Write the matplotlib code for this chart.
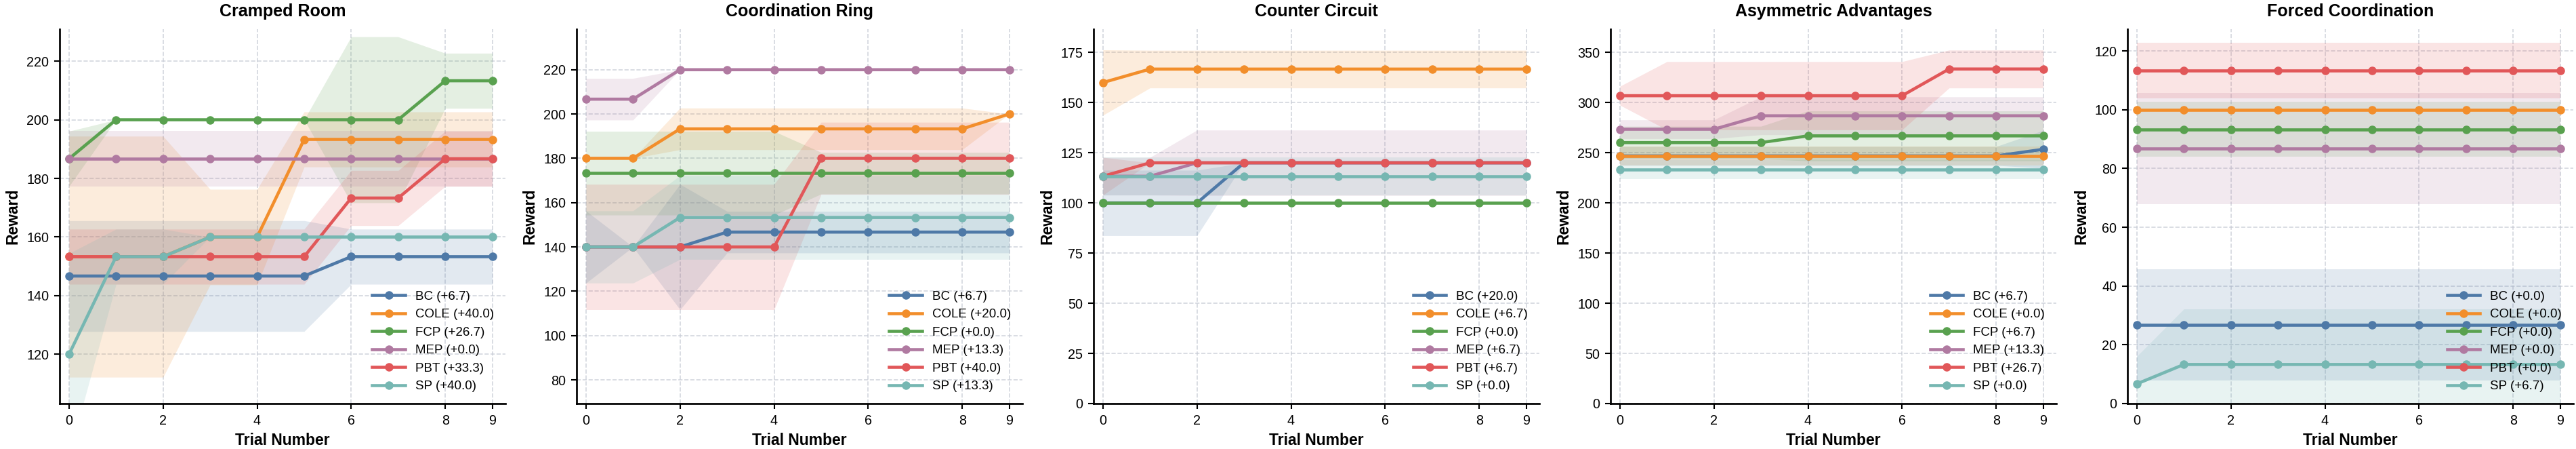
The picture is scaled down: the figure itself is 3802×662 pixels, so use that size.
import matplotlib
matplotlib.use("Agg")
from matplotlib import pyplot as plt

plt.rcParams['font.family'] = ['Liberation Sans', 'DejaVu Sans']

trials = [0, 1, 2, 3, 4, 5, 6, 7, 8, 9]
methods = ["BC", "COLE", "FCP", "MEP", "PBT", "SP"]
colors = ["#4E79A7", "#F28E2B", "#59A14F", "#B07AA1", "#E15759", "#76B7B2"]
titles = ["Cramped Room", "Coordination Ring", "Counter Circuit",
          "Asymmetric Advantages", "Forced Coordination"]

# mean reward per trial, one row per method (BC, COLE, FCP, MEP, PBT, SP)
cramped_mean = [
    [146.7, 146.7, 146.7, 146.7, 146.7, 146.7, 153.3, 153.3, 153.3, 153.3],
    [153.3, 153.3, 153.3, 160.0, 160.0, 193.3, 193.3, 193.3, 193.3, 193.3],
    [186.7, 200.0, 200.0, 200.0, 200.0, 200.0, 200.0, 200.0, 213.3, 213.3],
    [186.7, 186.7, 186.7, 186.7, 186.7, 186.7, 186.7, 186.7, 186.7, 186.7],
    [153.3, 153.3, 153.3, 153.3, 153.3, 153.3, 173.3, 173.3, 186.7, 186.7],
    [120.0, 153.3, 153.3, 160.0, 160.0, 160.0, 160.0, 160.0, 160.0, 160.0],
]
cramped_std = [
    [18.9, 18.9, 18.9, 18.9, 18.9, 18.9, 9.4, 9.4, 9.4, 9.4],
    [41.1, 41.1, 41.1, 16.3, 16.3, 9.4, 9.4, 9.4, 9.4, 9.4],
    [9.4, 0.0, 0.0, 0.0, 0.0, 0.0, 28.3, 28.3, 9.4, 9.4],
    [9.4, 9.4, 9.4, 9.4, 9.4, 9.4, 9.4, 9.4, 9.4, 9.4],
    [9.4, 9.4, 9.4, 9.4, 9.4, 9.4, 9.4, 9.4, 9.4, 9.4],
    [34.4, 9.4, 9.4, 0.0, 0.0, 0.0, 0.0, 0.0, 0.0, 0.0],
]
cramped_gain = [6.7, 40.0, 26.7, 0.0, 33.3, 40.0]

ring_mean = [
    [140.0, 140.0, 140.0, 146.7, 146.7, 146.7, 146.7, 146.7, 146.7, 146.7],
    [180.0, 180.0, 193.3, 193.3, 193.3, 193.3, 193.3, 193.3, 193.3, 200.0],
    [173.3, 173.3, 173.3, 173.3, 173.3, 173.3, 173.3, 173.3, 173.3, 173.3],
    [206.7, 206.7, 220.0, 220.0, 220.0, 220.0, 220.0, 220.0, 220.0, 220.0],
    [140.0, 140.0, 140.0, 140.0, 140.0, 180.0, 180.0, 180.0, 180.0, 180.0],
    [140.0, 140.0, 153.3, 153.3, 153.3, 153.3, 153.3, 153.3, 153.3, 153.3],
]
ring_std = [
    [16.3, 0.0, 28.3, 9.4, 9.4, 9.4, 9.4, 9.4, 9.4, 9.4],
    [0.0, 0.0, 9.4, 9.4, 9.4, 9.4, 9.4, 9.4, 9.4, 0.0],
    [18.9, 18.9, 18.9, 18.9, 18.9, 9.4, 9.4, 9.4, 9.4, 9.4],
    [9.4, 9.4, 0.0, 0.0, 0.0, 0.0, 0.0, 0.0, 0.0, 0.0],
    [28.3, 28.3, 28.3, 28.3, 28.3, 16.3, 16.3, 16.3, 16.3, 16.3],
    [16.3, 16.3, 18.9, 18.9, 18.9, 18.9, 18.9, 18.9, 18.9, 18.9],
]
ring_gain = [6.7, 20.0, 0.0, 13.3, 40.0, 13.3]

circuit_mean = [
    [100.0, 100.0, 100.0, 120.0, 120.0, 120.0, 120.0, 120.0, 120.0, 120.0],
    [160.0, 166.7, 166.7, 166.7, 166.7, 166.7, 166.7, 166.7, 166.7, 166.7],
    [100.0, 100.0, 100.0, 100.0, 100.0, 100.0, 100.0, 100.0, 100.0, 100.0],
    [113.3, 113.3, 120.0, 120.0, 120.0, 120.0, 120.0, 120.0, 120.0, 120.0],
    [113.3, 120.0, 120.0, 120.0, 120.0, 120.0, 120.0, 120.0, 120.0, 120.0],
    [113.3, 113.3, 113.3, 113.3, 113.3, 113.3, 113.3, 113.3, 113.3, 113.3],
]
circuit_std = [
    [16.3, 16.3, 16.3, 0.0, 0.0, 0.0, 0.0, 0.0, 0.0, 0.0],
    [16.3, 9.4, 9.4, 9.4, 9.4, 9.4, 9.4, 9.4, 9.4, 9.4],
    [0.0, 0.0, 0.0, 0.0, 0.0, 0.0, 0.0, 0.0, 0.0, 0.0],
    [9.4, 9.4, 16.3, 16.3, 16.3, 16.3, 16.3, 16.3, 16.3, 16.3],
    [9.4, 0.0, 0.0, 0.0, 0.0, 0.0, 0.0, 0.0, 0.0, 0.0],
    [9.4, 9.4, 9.4, 9.4, 9.4, 9.4, 9.4, 9.4, 9.4, 9.4],
]
circuit_gain = [20.0, 6.7, 0.0, 6.7, 6.7, 0.0]

asym_mean = [
    [246.7, 246.7, 246.7, 246.7, 246.7, 246.7, 246.7, 246.7, 246.7, 253.3],
    [246.7, 246.7, 246.7, 246.7, 246.7, 246.7, 246.7, 246.7, 246.7, 246.7],
    [260.0, 260.0, 260.0, 260.0, 266.7, 266.7, 266.7, 266.7, 266.7, 266.7],
    [273.3, 273.3, 273.3, 286.7, 286.7, 286.7, 286.7, 286.7, 286.7, 286.7],
    [306.7, 306.7, 306.7, 306.7, 306.7, 306.7, 306.7, 333.3, 333.3, 333.3],
    [233.3, 233.3, 233.3, 233.3, 233.3, 233.3, 233.3, 233.3, 233.3, 233.3],
]
asym_std = [
    [9.4, 9.4, 9.4, 9.4, 9.4, 9.4, 9.4, 9.4, 9.4, 18.9],
    [9.4, 9.4, 9.4, 9.4, 9.4, 9.4, 9.4, 9.4, 9.4, 9.4],
    [16.3, 16.3, 16.3, 16.3, 24.9, 24.9, 24.9, 24.9, 24.9, 24.9],
    [9.4, 9.4, 9.4, 18.9, 18.9, 18.9, 18.9, 18.9, 18.9, 18.9],
    [9.4, 34.0, 34.0, 34.0, 34.0, 34.0, 34.0, 18.9, 18.9, 18.9],
    [9.4, 9.4, 9.4, 9.4, 9.4, 9.4, 9.4, 9.4, 9.4, 9.4],
]
asym_gain = [6.7, 0.0, 6.7, 13.3, 26.7, 0.0]

forced_mean = [
    [26.7, 26.7, 26.7, 26.7, 26.7, 26.7, 26.7, 26.7, 26.7, 26.7],
    [100.0, 100.0, 100.0, 100.0, 100.0, 100.0, 100.0, 100.0, 100.0, 100.0],
    [93.3, 93.3, 93.3, 93.3, 93.3, 93.3, 93.3, 93.3, 93.3, 93.3],
    [86.7, 86.7, 86.7, 86.7, 86.7, 86.7, 86.7, 86.7, 86.7, 86.7],
    [113.3, 113.3, 113.3, 113.3, 113.3, 113.3, 113.3, 113.3, 113.3, 113.3],
    [6.7, 13.3, 13.3, 13.3, 13.3, 13.3, 13.3, 13.3, 13.3, 13.3],
]
forced_std = [
    [18.9, 18.9, 18.9, 18.9, 18.9, 18.9, 18.9, 18.9, 18.9, 18.9],
    [0.0, 0.0, 0.0, 0.0, 0.0, 0.0, 0.0, 0.0, 0.0, 0.0],
    [9.4, 9.4, 9.4, 9.4, 9.4, 9.4, 9.4, 9.4, 9.4, 9.4],
    [18.9, 18.9, 18.9, 18.9, 18.9, 18.9, 18.9, 18.9, 18.9, 18.9],
    [9.4, 9.4, 9.4, 9.4, 9.4, 9.4, 9.4, 9.4, 9.4, 9.4],
    [9.4, 18.9, 18.9, 18.9, 18.9, 18.9, 18.9, 18.9, 18.9, 18.9],
]
forced_gain = [0.0, 0.0, 0.0, 0.0, 0.0, 6.7]

panels = [
    (cramped_mean, cramped_std, cramped_gain, (103.2, 230.9)),
    (ring_mean, ring_std, ring_gain, (69.3, 238.3)),
    (circuit_mean, circuit_std, circuit_gain, (0, 186.6)),
    (asym_mean, asym_std, asym_gain, (0, 373.0)),
    (forced_mean, forced_std, forced_gain, (0, 127.4)),
]

W, H = 3802, 662
fig = plt.figure(figsize=(W / 150, H / 150), dpi=150)

for i, (means, stds, gains, ylim) in enumerate(panels):
    ax = fig.add_axes([(88 + 763 * i) / W, 67 / H, 658 / W, 552 / H])
    for m, c, mu, sd, g in zip(methods, colors, means, stds, gains):
        lo = [a - b for a, b in zip(mu, sd)]
        hi = [a + b for a, b in zip(mu, sd)]
        ax.fill_between(trials, lo, hi, color=c, alpha=0.16, linewidth=0)
        ax.plot(trials, mu, color=c, lw=2.2, marker='o', markersize=5,
                label=f"{m} (+{g:.1f})")
    ax.set_xlim(-0.2, 9.28)
    ax.set_ylim(*ylim)
    ax.set_xticks([0, 2, 4, 6, 8, 9])
    ax.set_title(titles[i], fontsize=12, fontweight='bold', pad=9)
    ax.set_xlabel("Trial Number", fontsize=11, fontweight='bold')
    ax.set_ylabel("Reward", fontsize=11, fontweight='bold')
    ax.tick_params(labelsize=9.5, length=4, width=1)
    ax.grid(True, linestyle='--', color='#c8ccd6', linewidth=0.8, alpha=0.8)
    ax.set_axisbelow(True)
    for s in ['top', 'right']:
        ax.spines[s].set_visible(False)
    for s in ['left', 'bottom']:
        ax.spines[s].set_linewidth(1.3)
        ax.spines[s].set_color('black')
    ax.legend(loc='lower right', frameon=False, fontsize=9, handlelength=2.6)

fig.savefig("out.png", dpi=150)
